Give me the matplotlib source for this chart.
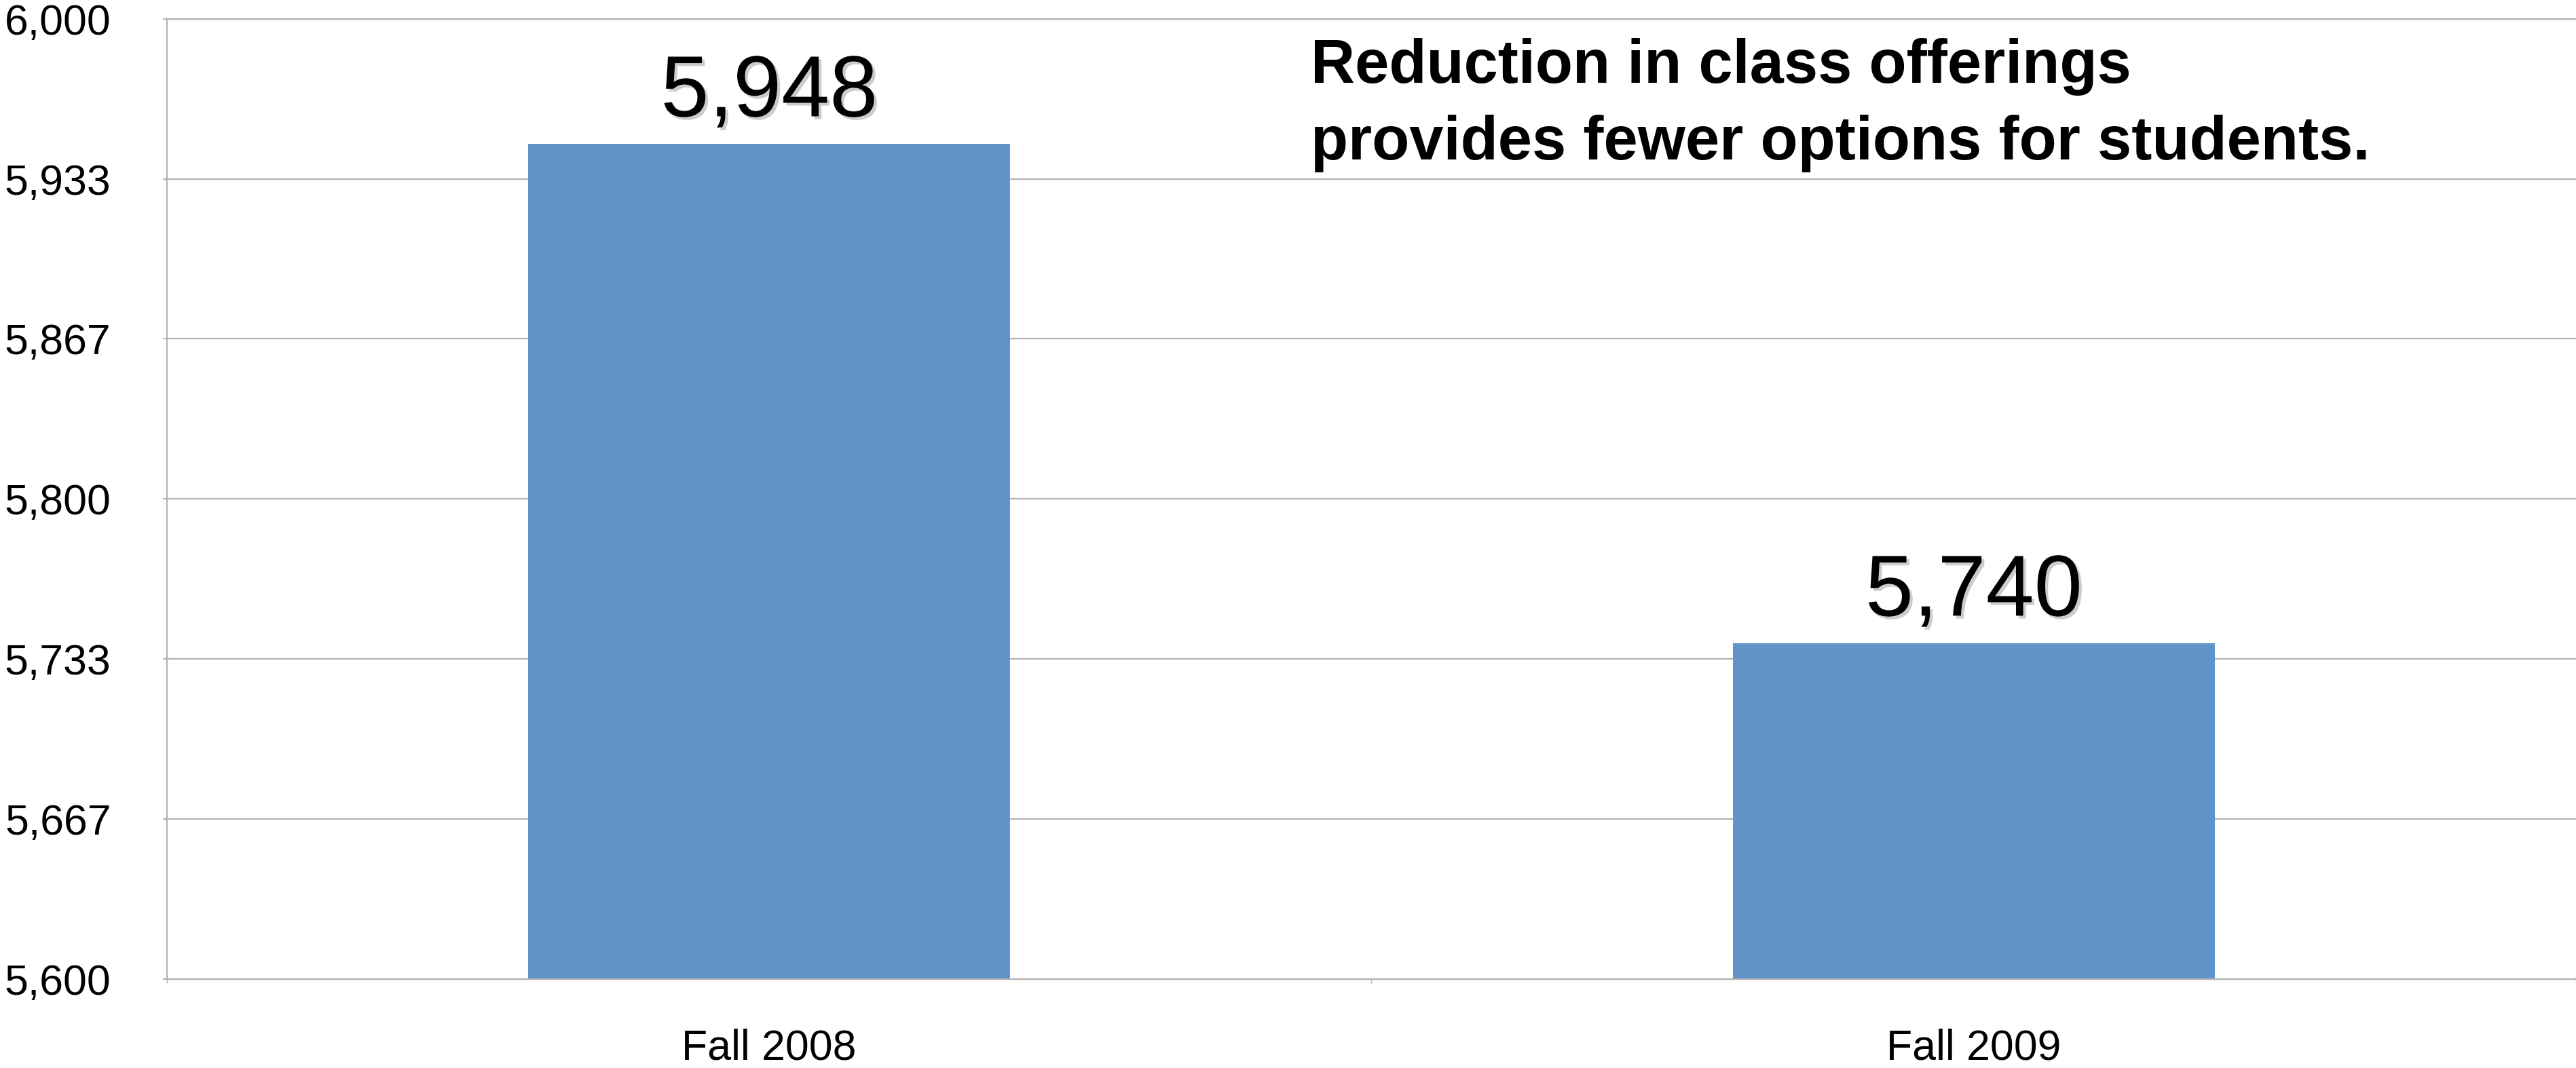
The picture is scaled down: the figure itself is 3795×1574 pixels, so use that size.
import numpy as np
import matplotlib
matplotlib.use("Agg")
import matplotlib.pyplot as plt
import matplotlib.patheffects as pe
from matplotlib.ticker import FixedLocator

categories = ["Fall 2008", "Fall 2009"]
sections = [5948, 5740]
y_ticks = np.linspace(5600, 6000, 7)
y_tick_labels = ["{:,.0f}".format(v) for v in y_ticks]
note_lines = ["Reduction in class offerings", "provides fewer options for students."]

plt.rcParams['font.family'] = ['Liberation Sans', 'DejaVu Sans']

grey = "#b3b3b3"
bar_color = "#6195c9"

fig = plt.figure(figsize=(37.95, 15.74), dpi=100)
ax = fig.add_axes([0.0648, 0.0832, 0.9352, 0.8992])

x = np.arange(len(categories))
bars = ax.bar(x, sections, width=0.4, color=bar_color, zorder=2)

ax.set_xlim(-0.5, len(categories) - 0.5)
ax.set_ylim(y_ticks[0], y_ticks[-1])
ax.set_yticks(y_ticks)
ax.set_yticklabels(y_tick_labels, fontsize=45)
ax.set_xticks(x)
ax.set_xticklabels(categories, fontsize=45)
ax.xaxis.set_minor_locator(FixedLocator(np.arange(-0.5, len(categories), 1.0)))

ax.tick_params(axis='y', length=4.3, width=1.6, color=grey, pad=55)
ax.tick_params(axis='x', which='major', length=0, pad=52)
ax.tick_params(axis='x', which='minor', length=4.3, width=1.0, color=grey)

ax.grid(axis='y', color=grey, linewidth=1.6)
ax.set_axisbelow(True)
for side in ['left', 'bottom', 'top']:
    ax.spines[side].set_color(grey)
    ax.spines[side].set_linewidth(1.6)
ax.spines['right'].set_visible(False)

# value labels with a soft drop shadow
for xi, val in zip(x, sections):
    ax.annotate("{:,}".format(val), xy=(xi, val), xytext=(0, 29),
                textcoords='offset points', ha='center', va='baseline',
                fontsize=92,
                path_effects=[pe.SimplePatchShadow(offset=(3, -3), shadow_rgbFace='gray', alpha=0.4),
                              pe.Normal()])

fig.text(1931 / 3795, 1 - 122 / 1574, note_lines[0], fontsize=65, fontweight='bold', va='baseline')
fig.text(1931 / 3795, 1 - 235 / 1574, note_lines[1], fontsize=65, fontweight='bold', va='baseline')

fig.savefig("out.png", dpi=100)
